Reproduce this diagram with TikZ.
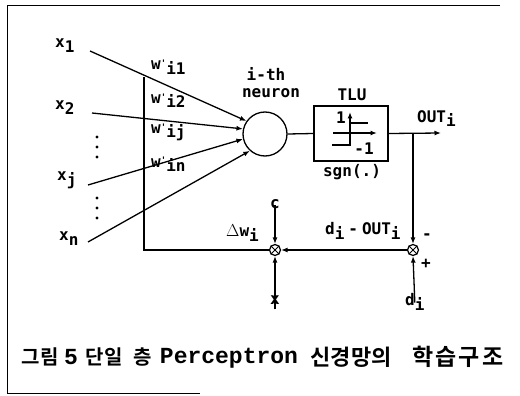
\documentclass[tikz,border=0pt]{standalone}
\usepackage{fontspec}
\usetikzlibrary{arrows.meta}
\newfontfamily\labfont{DejaVu Sans Mono}[BoldFont=* Bold]
\newfontfamily\krfont{Noto Sans CJK KR}[BoldFont=* Bold]
\newfontfamily\courfont{Liberation Mono}[BoldFont=* Bold]
\newcommand\sbx[1]{\raisebox{-5pt}{#1}}
\newcommand\wpr{w\raisebox{3pt}{\fontsize{9}{9}\selectfont'}}
\tikzset{
  lbl/.style={font=\labfont\bfseries\fontsize{16}{16}\selectfont, inner sep=0pt},
  ln/.style={line width=1.3pt},
  arr/.style={ln, -{Latex[length=6.5pt,width=5pt]}},
  mult/.style={circle, draw, line width=1.2pt, minimum size=11pt, inner sep=0pt},
  captxt/.style={inner sep=0pt, anchor=center},
  krcap/.style={captxt, font=\krfont\bfseries\fontsize{20}{20}\selectfont},
  latcap/.style={captxt, font=\courfont\bfseries\fontsize{23}{23}\selectfont},
}
\begin{document}
\begin{tikzpicture}[x=1pt,y=-1pt]
\useasboundingbox (0,0) rectangle (520,396);
% frame
\draw[line width=1pt] (500,6) -- (7,6) -- (7,393) -- (200,393);
% inputs
\node[lbl,anchor=base west] (x1) at (55,48) {x\sbx{1}};
\node[lbl,anchor=base west] (x2) at (55,110) {x\sbx{2}};
\node[lbl,anchor=base west] (xj) at (57,180) {x\sbx{j}};
\node[lbl,anchor=base west] (xn) at (59,240) {x\sbx{n}};
\coordinate (s1) at (90,51);
\coordinate (s2) at (92,113);
\coordinate (sj) at (88,185);
\coordinate (sn) at (88,242);
\foreach \y in {137,147,157,198,208,218} \fill (97,\y) circle (1.7pt);
% neuron
\node[circle,draw,ln,minimum size=44pt,inner sep=0pt] (n) at (265,134) {};
\node[lbl] (ith) at (266,74) {i-th};
\node[lbl] (neur) at (271,93) {neuron};
\draw[arr] (s1) -- (n.145);
\draw[arr] (s2) -- (n.167);
\draw[arr] (sj) -- (n.193);
\draw[arr] (sn) -- (n.228);
% weights
\coordinate (wt) at (144,77);
\coordinate (wc) at (144,250);
\node[lbl,anchor=base west] (w1) at (151,70) {\wpr\sbx{i1}};
\node[lbl,anchor=base west] (w2) at (151,103) {\wpr\sbx{i2}};
\node[lbl,anchor=base west] (w3) at (151,133) {\wpr\sbx{ij}};
\node[lbl,anchor=base west] (w4) at (151,167) {\wpr\sbx{in}};
% TLU
\node[draw,ln,minimum width=74pt,minimum height=55pt,inner sep=0pt] (tlu) at (351,133.5) {};
\node[lbl] (tlul) at (352,95) {TLU};
\node[lbl] (sgn) at (352,172) {sgn(.)};
\draw[arr] (333,133) -- (377,133);
\draw[arr] (350,146) -- (350,112);
\draw[ln] (350,123) -- (368,123);
\draw[ln] (332,145) -- (350,145);
\node[lbl] (one) at (341,118) {1};
\node[lbl] (mone) at (364,149) {-1};
\draw[ln] (n.east) -- (tlu.west);
\coordinate (out) at (441,133);
\coordinate (br) at (413,133);
\draw[arr] (tlu.east) -- (out);
\node[lbl,anchor=base west] (outl) at (417,122) {OUT\sbx{i}};
% multipliers
\node[mult] (m1) at (275,250) {};
\node[mult] (m2) at (413,250) {};
\foreach \m in {m1,m2} \draw[line width=1pt] (\m.45) -- (\m.225) (\m.135) -- (\m.315);
\draw[arr] (br) -- (m2.north);
\draw[arr] (m2.west) -- (m1.east);
\draw[ln] (m1.west) -- (wc) -- (wt);
\node[lbl] (c) at (275,204) {c};
\node[lbl] (xin) at (275,300) {x};
\node[lbl,anchor=base west] (di) at (405,305) {d\sbx{i}};
\draw[arr] ([yshift=4pt]c.south) -- (m1.north);
\draw[arr] ([yshift=-14pt]xin.north) -- (m1.south);
\draw[arr] ([yshift=-10pt]di.north) -- (m2.south);
\node[lbl,anchor=base west] (err) at (325,234) {d\sbx{i}\hspace{4pt}-\hspace{4pt}OUT\sbx{i}};
\node[lbl,anchor=base west] (dw) at (226,236) {$\Delta$w\sbx{i}};
\node[lbl] (minus) at (427,237) {-};
\node[lbl] (plus) at (426,264) {+};
% caption
\node[krcap] (c1) at (40,357) {그림};
\node[latcap] (c2) at (71,357) {5};
\node[krcap] (c3) at (104,357) {단일};
\node[krcap] (c4) at (143,357) {층};
\node[latcap] (c5) at (229,358) {Perceptron};
\node[krcap,font=\krfont\bfseries\fontsize{22}{22}\selectfont] (c6) at (351,357) {신경망의};
\node[krcap,font=\krfont\bfseries\fontsize{23}{23}\selectfont] (c7) at (458,357) {학\hspace{2pt}습\hspace{2pt}구\hspace{2pt}조};
\end{tikzpicture}
\end{document}
